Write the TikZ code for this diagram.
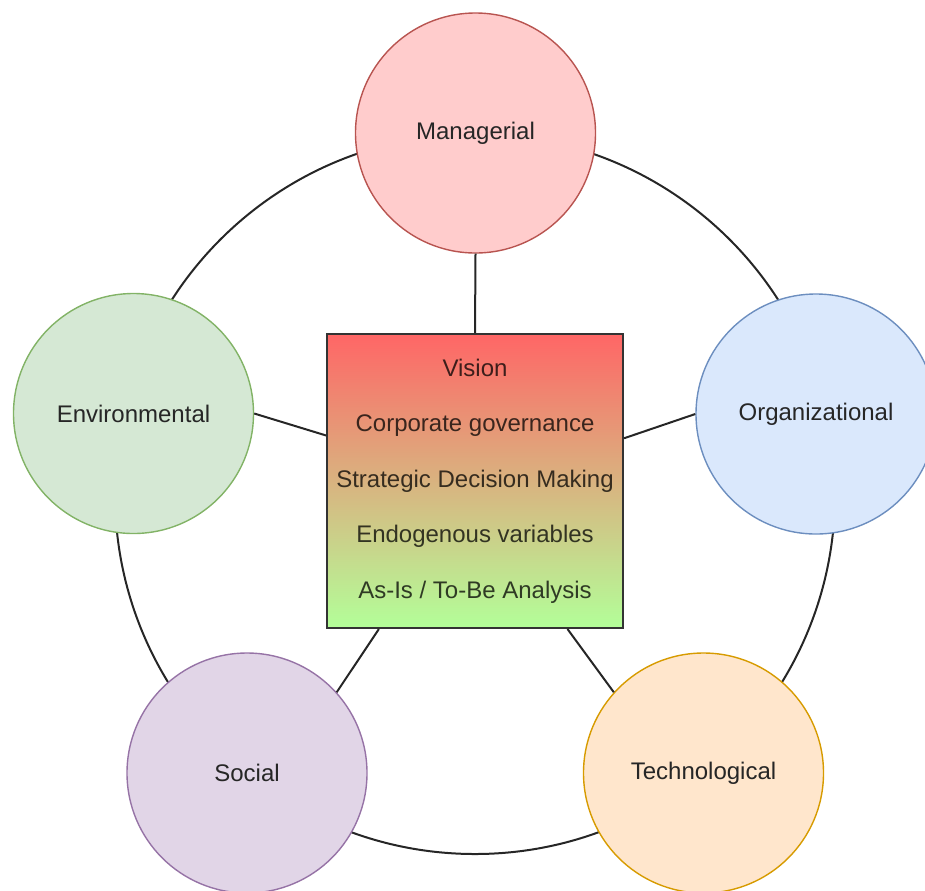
\documentclass[tikz,border=0pt]{standalone}
\usepackage{fontspec}
\setmainfont{Liberation Sans}
\usetikzlibrary{calc}
\definecolor{mgrFill}{HTML}{FFCCCC}\definecolor{mgrLine}{HTML}{B85450}
\definecolor{envFill}{HTML}{D5E8D4}\definecolor{envLine}{HTML}{82B366}
\definecolor{orgFill}{HTML}{DAE8FC}\definecolor{orgLine}{HTML}{6C8EBF}
\definecolor{socFill}{HTML}{E1D5E7}\definecolor{socLine}{HTML}{9673A6}
\definecolor{tecFill}{HTML}{FFE6CC}\definecolor{tecLine}{HTML}{D79B00}
\definecolor{gTop}{HTML}{FF6666}\definecolor{gMid}{HTML}{F2B380}\definecolor{gBot}{HTML}{B3FF99}
\definecolor{txt}{HTML}{262626}
\tikzset{
  dim/.style={circle, minimum size=120pt, inner sep=0pt, line width=0.7pt, font=\fontsize{12}{14}\selectfont, text=txt},
  link/.style={line width=1pt, draw=black!85},
  corebox/.style={rectangle, draw=black!80, line width=1pt, minimum width=148pt, minimum height=147pt,
    top color=gTop, middle color=gMid, bottom color=gBot, align=center,
    font=\fontsize{12}{27.75}\selectfont, text=black, text opacity=0.75}
}
\begin{document}
\begin{tikzpicture}[x=0.5pt,y=-0.5pt]
\useasboundingbox (0,0) rectangle (925,890);
\clip (0,0) rectangle (925,890);
\draw[link] (475,494) circle[radius=180pt];
\node[dim, fill=mgrFill, draw=mgrLine] (mgr) at (475.5,133) {Managerial};
\node[dim, fill=envFill, draw=envLine] (env) at (133.5,413.5) {Environmental};
\node[dim, fill=orgFill, draw=orgLine] (org) at (816,414) {Organizational};
\node[dim, fill=socFill, draw=socLine] (soc) at (247,773) {Social};
\node[dim, fill=tecFill, draw=tecLine] (tec) at (703.5,773) {Technological};
\node[corebox] (core) at (475,481) {Vision\\Corporate governance\\Strategic Decision Making\\Endogenous variables\\As-Is / To-Be Analysis};
\draw[link] (mgr.south) -- (core.north);
\draw[link] (env.east) -- (core.163.8);
\draw[link] (org.west) -- (core.16.2);
\draw[link] (soc.42) -- (core.237.1);
\draw[link] (tec.138) -- (core.302.9);
\end{tikzpicture}
\end{document}
